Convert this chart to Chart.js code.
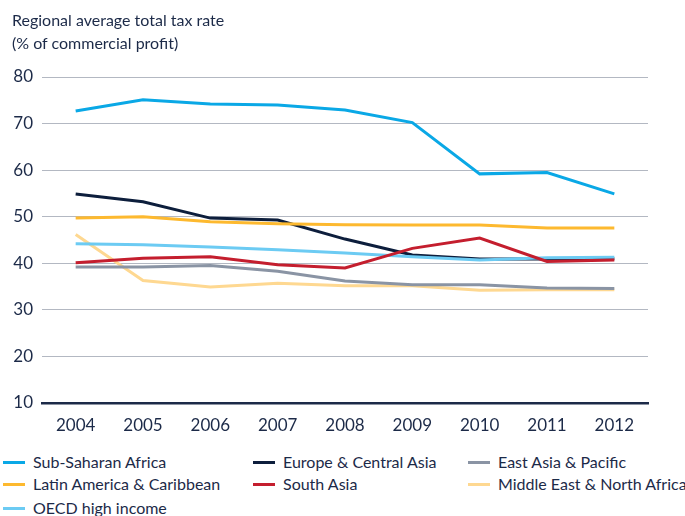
<!DOCTYPE html>
<html>
<head>
<meta charset="utf-8">
<script src="https://cdn.jsdelivr.net/npm/chart.js@4/dist/chart.umd.min.js"></script>
<style>
  body { margin: 0; background: #fff; }
  #wrap { position: relative; width: 685px; height: 516px; font-family: Lato, sans-serif; color: #1c2a48; }
  #title { position: absolute; left: 12px; top: 8px; font-size: 16px; line-height: 23px; }
  #chart { position: absolute; left: 0; top: 0; }
  .leg { position: absolute; font-size: 16px; line-height: 20px; white-space: nowrap; }
  .leg i { position: absolute; left: 0; top: 9px; width: 22px; height: 3px; }
  .leg span { position: absolute; left: 30px; top: 0; }
</style>
</head>
<body>
<div id="wrap">
  <canvas id="chart" width="685" height="445"></canvas>
  <div id="title">Regional average total tax rate<br>(% of commercial profit)</div>
  <div id="legend"></div>
</div>
<script>
const years = ['2004','2005','2006','2007','2008','2009','2010','2011','2012'];

const subSaharanAfrica   = [72.7, 75.1, 74.2, 74.0, 72.9, 70.2, 59.2, 59.5, 54.9];
const europeCentralAsia  = [54.9, 53.2, 49.7, 49.3, 45.2, 41.8, 40.9, 40.9, 41.0];
const eastAsiaPacific    = [39.2, 39.2, 39.5, 38.3, 36.2, 35.4, 35.4, 34.7, 34.6];
const latinAmerica       = [49.7, 50.0, 48.9, 48.5, 48.3, 48.2, 48.2, 47.6, 47.6];
const southAsia          = [40.1, 41.1, 41.4, 39.7, 39.0, 43.2, 45.4, 40.4, 40.7];
const middleEastNAfrica  = [46.2, 36.3, 34.9, 35.7, 35.2, 35.2, 34.2, 34.3, 34.3];
const oecdHighIncome     = [44.2, 44.0, 43.5, 42.9, 42.2, 41.4, 40.7, 41.2, 41.3];

const yTicks = [10, 20, 30, 40, 50, 60, 70, 80];

const navy = '#1c2a48';

function line(label, data, color, order){
  return { label, data, borderColor: color, backgroundColor: color, borderWidth: 3,
           pointRadius: 0, tension: 0, fill: false, order };
}

const datasets = [
  line('Sub-Saharan Africa', subSaharanAfrica, '#0aa8e6', 0),
  line('Europe & Central Asia', europeCentralAsia, '#0d1e3c', 5),
  line('East Asia & Pacific', eastAsiaPacific, '#8a94a4', 3),
  line('Latin America & Caribbean', latinAmerica, '#fdb92f', 1),
  line('South Asia', southAsia, '#c41e2e', 2),
  line('Middle East & North Africa', middleEastNAfrica, '#fed891', 6),
  line('OECD high income', oecdHighIncome, '#6ccbf3', 4)
];

new Chart(document.getElementById('chart'), {
  type: 'line',
  data: { labels: years, datasets },
  options: {
    responsive: false,
    animation: false,
    devicePixelRatio: 1,
    layout: { padding: { top: 77, right: 37, left: 0, bottom: 0 } },
    plugins: { legend: { display: false }, tooltip: { enabled: false } },
    scales: {
      x: {
        offset: true,
        grid: { display: false, drawTicks: false },
        border: { color: navy, width: 2.5 },
        ticks: { color: navy, font: { family: 'Lato', size: 17 }, padding: 12, maxRotation: 0 },
        afterFit: s => { s.height = 42; }
      },
      y: {
        min: 10, max: 80,
        afterBuildTicks: s => { s.ticks = yTicks.map(v => ({ value: v })); },
        grid: { drawTicks: false, color: c => c.tick && c.tick.value === 10 ? 'rgba(0,0,0,0)' : '#b3b8c2', lineWidth: 1 },
        border: { display: false },
        ticks: { color: navy, font: { family: 'Lato', size: 17 }, padding: 9 },
        afterFit: s => { s.width = 42; }
      }
    }
  }
});

// legend laid out in three fixed columns
const legendCols = [3, 253, 468];
const legendRows = [452, 474, 498];
const legendEl = document.getElementById('legend');
datasets.forEach((d, i) => {
  const div = document.createElement('div');
  div.className = 'leg';
  div.style.left = legendCols[i % 3] + 'px';
  div.style.top = legendRows[Math.floor(i / 3)] + 'px';
  div.innerHTML = `<i style="background:${d.borderColor}"></i><span>${d.label}</span>`;
  legendEl.appendChild(div);
});
</script>
</body>
</html>
